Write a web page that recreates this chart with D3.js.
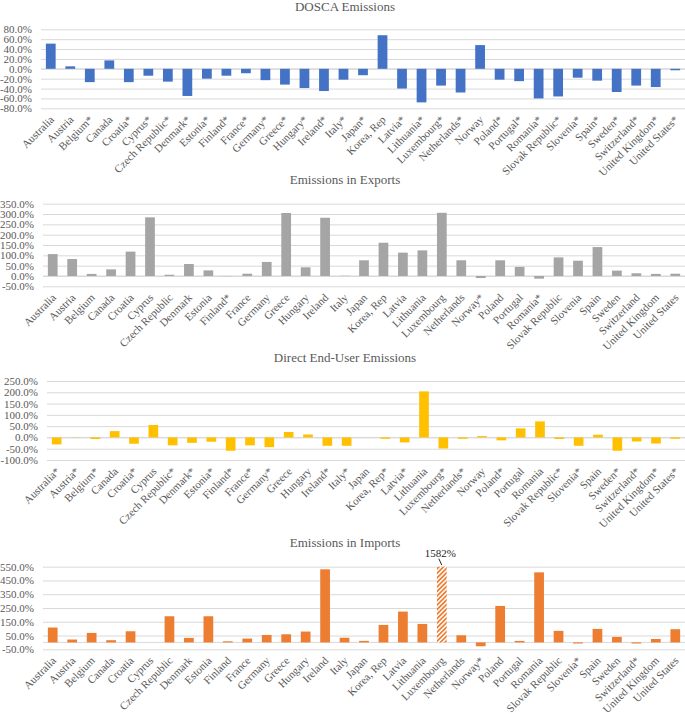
<!DOCTYPE html>
<html>
<head>
<meta charset="utf-8">
<script src="https://cdn.jsdelivr.net/npm/d3@7"></script>
<style>
  html, body { margin: 0; padding: 0; background: #fff; }
  svg { display: block; font-family: "Liberation Serif", "Times New Roman", serif; }
</style>
</head>
<body>
<svg id="chart" width="685" height="714"></svg>
<script>
// ---------- DATA ----------
const doscaLabels = ["Australia","Austria","Belgium*","Canada","Croatia*","Cyprus*","Czech Republic*","Denmark*","Estonia*","Finland*","France*","Germany*","Greece*","Hungary*","Ireland*","Italy*","Japan*","Korea, Rep","Latvia*","Lithuania*","Luxembourg*","Netherlands*","Norway","Poland*","Portugal*","Romania*","Slovak Republic*","Slovenia*","Spain*","Sweden*","Switzerland*","United Kingdom*","United States*"];
const doscaValues = [51,5,-27,17,-27,-14,-26,-55,-20,-14,-9,-23,-32,-39,-45,-22,-13,68,-40,-68,-34,-48,48,-22,-25,-60,-56,-18,-24,-47,-34,-37,-3];
const doscaTicks = [-80,-60,-40,-20,0,20,40,60,80];

const exportsLabels = ["Australia","Austria","Belgium","Canada","Croatia","Cyprus","Czech Republic","Denmark","Estonia","Finland*","France","Germany","Greece","Hungary","Ireland","Italy","Japan","Korea, Rep","Latvia","Lithuania","Luxembourg","Netherlands","Norway*","Poland","Portugal","Romania*","Slovak Republic","Slovenia","Spain","Sweden","Switzerland","United Kingdom","United States"];
const exportsValues = [106,82,10,32,118,284,6,58,27,-1,11,68,305,42,282,1,76,161,113,124,306,76,-10,76,44,-13,90,74,140,26,13,10,11];
const exportsTicks = [-50,0,50,100,150,200,250,300,350];

const directLabels = ["Australia*","Austria*","Belgium*","Canada","Croatia*","Cyprus","Czech Republic*","Denmark*","Estonia*","Finland*","France*","Germany*","Greece","Hungary","Ireland*","Italy*","Japan","Korea, Rep*","Latvia*","Lithuania","Luxembourg*","Netherlands*","Norway","Poland*","Portugal","Romania","Slovak Republic*","Slovenia*","Spain","Sweden*","Switzerland*","United Kingdom*","United States*"];
const directValues = [-31,-1,-7,28,-28,55,-35,-24,-19,-59,-35,-43,24,13,-37,-37,0,-6,-22,204,-49,-6,6,-13,40,71,-7,-37,12,-59,-18,-27,-6];
const directTicks = [-100,-50,0,50,100,150,200,250];

const importsLabels = ["Australia","Austria","Belgium","Canada","Croatia","Cyprus","Czech Republic","Denmark","Estonia","Finland","France","Germany","Greece","Hungary","Ireland","Italy","Japan","Korea, Rep","Latvia","Lithuania","Luxembourg","Netherlands","Norway*","Poland","Portugal","Romania","Slovak Republic","Slovenia*","Spain","Sweden","Switzerland*","United Kingdom","United States"];
const importsValues = [108,21,69,16,81,0,190,33,190,8,28,54,59,79,531,34,11,127,224,134,1582,52,-28,265,11,509,84,-8,98,40,-8,25,96];
const importsTicks = [-50,50,150,250,350,450,550];

// ---------- LAYOUT (positions / styles) ----------
const W = 685;
const panels = [
  { title: "DOSCA Emissions", labels: doscaLabels, values: doscaValues, ticks: doscaTicks,
    domain: [-80, 80], titleY: 11, top: 29.3, bottom: 108.3, left: 41, color: "#4472C4" },
  { title: "Emissions in Exports", labels: exportsLabels, values: exportsValues, ticks: exportsTicks,
    domain: [-50, 350], titleY: 184, top: 203.7, bottom: 286.3, left: 43, color: "#A5A5A5" },
  { title: "Direct End-User Emissions", labels: directLabels, values: directValues, ticks: directTicks,
    domain: [-100, 250], titleY: 362, top: 381, bottom: 460, left: 47, color: "#FFC000" },
  { title: "Emissions in Imports", labels: importsLabels, values: importsValues, ticks: importsTicks,
    domain: [-50, 550], titleY: 547, top: 566.7, bottom: 649.3, left: 43, color: "#ED7D31", capped: true }
];

const svg = d3.select("#chart");
const textColor = "#595959";
const gridColor = "#d9d9d9";

// hatch pattern for capped bar
const defs = svg.append("defs");
const pat = defs.append("pattern")
  .attr("id", "hatch")
  .attr("patternUnits", "userSpaceOnUse")
  .attr("width", 3.2).attr("height", 3.2)
  .attr("patternTransform", "rotate(45)");
pat.append("rect").attr("width", 3.2).attr("height", 3.2).attr("fill", "#fff");
pat.append("rect").attr("width", 1.7).attr("height", 3.2).attr("fill", "#ED7D31");

panels.forEach(p => {
  const g = svg.append("g");
  const idx = p.labels.map((d, i) => i);
  const x = d3.scaleBand().domain(idx).range([p.left, W]).paddingInner(0.5).paddingOuter(0.25);
  const y = d3.scaleLinear().domain(p.domain).range([p.bottom, p.top]);

  // title
  g.append("text")
    .attr("x", 345).attr("y", p.titleY)
    .attr("text-anchor", "middle")
    .attr("font-size", 13).attr("fill", textColor)
    .text(p.title);

  // gridlines + y axis labels
  const yAxis = d3.axisLeft(y).tickValues(p.ticks).tickSize(-(W - p.left)).tickPadding(9)
    .tickFormat(v => v.toFixed(1) + "%");
  const ya = g.append("g").attr("transform", `translate(${p.left},0)`).call(yAxis);
  ya.select(".domain").remove();
  ya.selectAll(".tick line").attr("stroke", gridColor).attr("stroke-width", 1);
  ya.selectAll(".tick text").attr("fill", textColor).attr("font-size", 11)
    .attr("font-family", '"Liberation Serif", "Times New Roman", serif');

  // zero line
  g.append("line")
    .attr("x1", p.left).attr("x2", W)
    .attr("y1", y(0)).attr("y2", y(0))
    .attr("stroke", gridColor).attr("stroke-width", 1);

  // bars
  const maxV = p.domain[1];
  g.selectAll("rect.bar").data(p.values).join("rect")
    .attr("class", "bar")
    .attr("x", (d, i) => x(i))
    .attr("width", x.bandwidth())
    .attr("y", d => y(Math.max(0, Math.min(d, maxV))))
    .attr("height", d => Math.abs(y(Math.min(d, maxV)) - y(0)))
    .attr("fill", d => (p.capped && d > maxV) ? "url(#hatch)" : p.color);

  // capped value labels
  if (p.capped) {
    p.values.forEach((d, i) => {
      if (d > maxV) {
        const cx = x(i) + x.bandwidth() / 2;
        g.append("text")
          .attr("x", cx - 1.5).attr("y", y(maxV) - 9.5)
          .attr("text-anchor", "middle")
          .attr("font-size", 11).attr("fill", "#262626")
          .text(d + "%");
        g.append("line")
          .attr("x1", cx - 3).attr("y1", y(maxV) - 8)
          .attr("x2", cx).attr("y2", y(maxV) - 1.5)
          .attr("stroke", "#262626").attr("stroke-width", 1);
      }
    });
  }

  // category labels (rotated)
  g.selectAll("text.cat").data(p.labels).join("text")
    .attr("class", "cat")
    .attr("text-anchor", "end")
    .attr("font-size", 11).attr("fill", textColor)
    .attr("transform", (d, i) => {
      const cx = x(i) + x.bandwidth() / 2;
      return `translate(${cx + 4},${p.bottom + 12}) rotate(-45)`;
    })
    .text(d => d);
});
</script>
</body>
</html>
